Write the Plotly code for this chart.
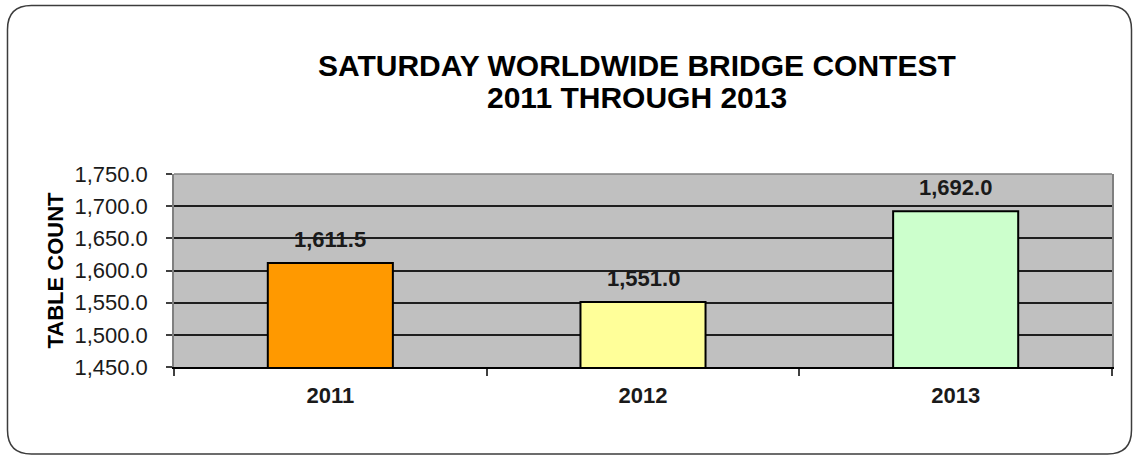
import plotly.graph_objects as go

# Chart data
years = ["2011", "2012", "2013"]
table_counts = [1611.5, 1551.0, 1692.0]
bar_colors = ["#FF9900", "#FFFF99", "#CCFFCC"]
y_ticks = [1450, 1500, 1550, 1600, 1650, 1700, 1750]
y_tick_labels = ["1,450.0", "1,500.0", "1,550.0", "1,600.0", "1,650.0", "1,700.0", "1,750.0"]
title_lines = ["SATURDAY WORLDWIDE BRIDGE CONTEST", "2011 THROUGH 2013"]

W, H = 1133, 455
L, R, T, B = 174, 21, 174, 88
PW, PH = W - L - R, H - T - B
FONT = "Liberation Sans, Arial"


def px_to_paper(x, y):
    return (x - L) / PW, (H - B - y) / PH


fig = go.Figure()
fig.add_trace(go.Bar(
    x=years,
    y=table_counts,
    width=0.4,
    marker=dict(color=bar_colors, line=dict(color="#000000", width=2)),
    hoverinfo="x+y",
))

# value labels above each bar (category index positions)
annotations = []
for i, v in enumerate(table_counts):
    annotations.append(dict(
        x=i, y=v, xref="x", yref="y",
        text=f"<b>{v:,.1f}</b>", showarrow=False,
        yanchor="bottom", yshift=9,
        font=dict(family=FONT, size=22, color="#1a1a1a"),
    ))

# two-line chart heading
for line, ypx in zip(title_lines, [65, 98]):
    xp, yp = px_to_paper(637, ypx)
    annotations.append(dict(
        x=xp, y=yp, xref="paper", yref="paper",
        text=f"<b>{line}</b>", showarrow=False,
        xanchor="center", yanchor="middle",
        font=dict(family=FONT, size=30, color="#000000"),
    ))

# rounded outer frame
x0, y0, x1, y1, r = 7.5, 5.5, 1131.5, 454, 24


def pt(x, y):
    a, b = px_to_paper(x, y)
    return f"{a:.5f},{b:.5f}"


frame_path = (
    f"M {pt(x0 + r, y0)} L {pt(x1 - r, y0)} Q {pt(x1, y0)} {pt(x1, y0 + r)} "
    f"L {pt(x1, y1 - r)} Q {pt(x1, y1)} {pt(x1 - r, y1)} "
    f"L {pt(x0 + r, y1)} Q {pt(x0, y1)} {pt(x0, y1 - r)} "
    f"L {pt(x0, y0 + r)} Q {pt(x0, y0)} {pt(x0 + r, y0)} Z"
)

shapes = [
    dict(type="path", xref="paper", yref="paper", path=frame_path,
         line=dict(color="#3c3c3c", width=1.5), layer="below"),
    dict(type="line", xref="paper", yref="paper", x0=0, x1=1, y0=1, y1=1,
         line=dict(color="#808080", width=1.5), layer="above"),
]

fig.update_layout(
    width=W, height=H,
    margin=dict(l=L, r=R, t=T, b=B),
    paper_bgcolor="#ffffff",
    plot_bgcolor="#C0C0C0",
    showlegend=False,
    annotations=annotations,
    shapes=shapes,
    font=dict(family=FONT, color="#000000"),
)

fig.update_xaxes(
    type="category",
    range=[-0.5, 2.5],
    tickson="boundaries",
    ticks="outside", ticklen=7, tickwidth=1.5, tickcolor="#404040",
    showline=True, linecolor="#000000", linewidth=1.5,
    showgrid=False,
    tickangle=0,
    tickfont=dict(family=FONT, size=22, color="#1a1a1a", weight="bold"),
    ticklabelstandoff=8,
)

fig.update_yaxes(
    range=[1450, 1750],
    tickvals=y_ticks, ticktext=y_tick_labels,
    ticks="outside", ticklen=6, tickwidth=1.5, tickcolor="#404040",
    showline=True, linecolor="#808080", linewidth=1.5, mirror=True,
    showgrid=True, gridcolor="#1e1e1e", gridwidth=1.5,
    zeroline=False,
    tickfont=dict(family=FONT, size=22, color="#1a1a1a"),
    ticklabelstandoff=14,
    title=dict(text="<b>TABLE COUNT</b>", standoff=5,
               font=dict(family=FONT, size=22, color="#000000")),
)

fig.write_html("out.html")
